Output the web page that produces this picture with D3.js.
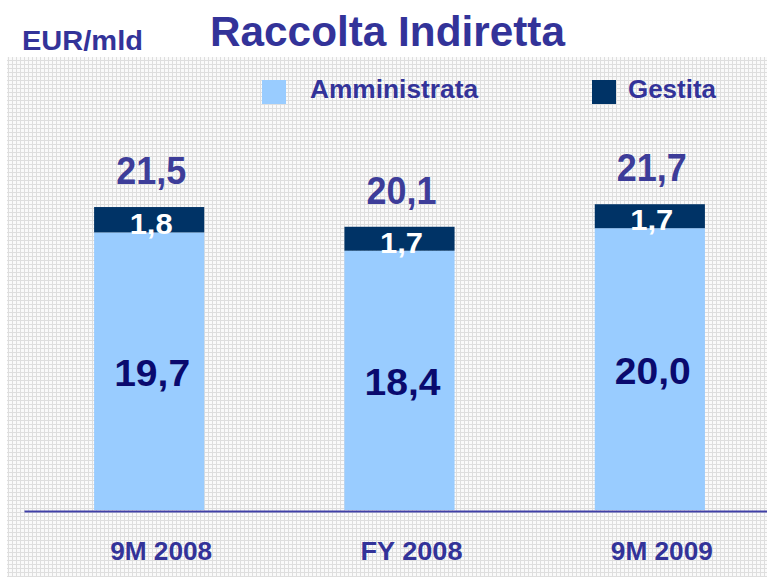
<!DOCTYPE html>
<html>
<head>
<meta charset="utf-8">
<script src="https://cdn.jsdelivr.net/npm/d3@7"></script>
<style>
  body { margin: 0; background: #fff; }
  svg { display: block; }
  text { font-family: "Liberation Sans", Arial, sans-serif; font-weight: bold; }
</style>
</head>
<body>
<svg id="chart"></svg>
<script>
const WIDTH = 767;
const HEIGHT = 577;

const categories = ["9M 2008", "FY 2008", "9M 2009"];
const amministrata = [19.7, 18.4, 20.0];
const gestita = [1.8, 1.7, 1.7];
const totals = [21.5, 20.1, 21.7];
const seriesNames = ["Amministrata", "Gestita"];

const COLORS = {
  amministrata: "#99ccff",
  gestita: "#003366",
  title: "#333399",
  inner: "#0a0a6e",
  total: "#3d3d99",
};

const fmt = (v) => d3.format(".1f")(v).replace(".", ",");

const svg = d3.select("#chart").attr("width", WIDTH).attr("height", HEIGHT);

// grid-textured background panel
const defs = svg.append("defs");
const pat = defs
  .append("pattern")
  .attr("id", "grid")
  .attr("width", 4)
  .attr("height", 4)
  .attr("patternUnits", "userSpaceOnUse");
pat.append("rect").attr("width", 4).attr("height", 4).attr("fill", "#fafafa");
pat.append("rect").attr("width", 4).attr("height", 1).attr("fill", "#dedede");
pat.append("rect").attr("width", 1).attr("height", 4).attr("fill", "#dedede");

svg
  .append("rect")
  .attr("x", 7)
  .attr("y", 57)
  .attr("width", WIDTH - 7)
  .attr("height", HEIGHT - 57)
  .attr("fill", "url(#grid)");

// titles
svg
  .append("text")
  .attr("x", 210)
  .attr("y", 46)
  .attr("font-size", 43)
  .attr("textLength", 355)
  .attr("lengthAdjust", "spacingAndGlyphs")
  .attr("fill", COLORS.title)
  .text("Raccolta Indiretta");

svg
  .append("text")
  .attr("x", 22)
  .attr("y", 50)
  .attr("font-size", 27)
  .attr("textLength", 121)
  .attr("lengthAdjust", "spacingAndGlyphs")
  .attr("fill", COLORS.title)
  .text("EUR/mld");

// scales
const x = d3
  .scaleBand()
  .domain(categories)
  .range([24, 775])
  .paddingInner(0.56)
  .paddingOuter(0.28);

const y = d3.scaleLinear().domain([0, 22]).range([510, 200]);

const rows = categories.map((c, i) => ({
  cat: c,
  adm: amministrata[i],
  ges: gestita[i],
  tot: totals[i],
}));

// bars
const bars = svg.append("g");

bars
  .selectAll(".adm")
  .data(rows)
  .join("rect")
  .attr("class", "adm")
  .attr("x", (d) => x(d.cat))
  .attr("width", x.bandwidth())
  .attr("y", (d) => y(d.adm))
  .attr("height", (d) => y(0) - y(d.adm))
  .attr("fill", COLORS.amministrata);

bars
  .selectAll(".ges")
  .data(rows)
  .join("rect")
  .attr("class", "ges")
  .attr("x", (d) => x(d.cat))
  .attr("width", x.bandwidth())
  .attr("y", (d) => y(d.adm + d.ges))
  .attr("height", (d) => y(d.adm) - y(d.adm + d.ges))
  .attr("fill", COLORS.gestita);

// axis
const axis = svg
  .append("g")
  .attr("transform", `translate(0, ${y(0) + 1})`)
  .call(d3.axisBottom(x).tickSize(0).tickPadding(31));

axis.select(".domain").attr("stroke", "#4040a6").attr("stroke-width", 2);
axis
  .selectAll(".tick text")
  .attr("dx", 12)
  .attr("font-size", 26)
  .attr("fill", COLORS.title)
  .attr("textLength", 102)
  .attr("lengthAdjust", "spacingAndGlyphs");

// value labels
const labels = svg.append("g").attr("text-anchor", "middle");

labels
  .selectAll(".adm-label")
  .data(rows)
  .join("text")
  .attr("class", "adm-label")
  .attr("x", (d) => x(d.cat) + x.bandwidth() / 2 + 3)
  .attr("y", (d) => (y(0) + y(d.adm)) / 2 + 15)
  .attr("font-size", 36)
  .attr("textLength", 76)
  .attr("lengthAdjust", "spacingAndGlyphs")
  .attr("fill", COLORS.inner)
  .text((d) => fmt(d.adm));

labels
  .selectAll(".ges-label")
  .data(rows)
  .join("text")
  .attr("class", "ges-label")
  .attr("x", (d) => x(d.cat) + x.bandwidth() / 2 + 2)
  .attr("y", (d) => y(d.adm) + 2)
  .attr("font-size", 29)
  .attr("textLength", 43)
  .attr("lengthAdjust", "spacingAndGlyphs")
  .attr("fill", "#ffffff")
  .text((d) => fmt(d.ges));

labels
  .selectAll(".tot-label")
  .data(rows)
  .join("text")
  .attr("class", "tot-label")
  .attr("x", (d) => x(d.cat) + x.bandwidth() / 2 + 2)
  .attr("y", (d) => y(d.adm + d.ges) - 23)
  .attr("font-size", 39)
  .attr("textLength", 70)
  .attr("lengthAdjust", "spacingAndGlyphs")
  .attr("fill", COLORS.total)
  .text((d) => fmt(d.tot));

// legend
const legendItems = [
  { name: seriesNames[0], color: COLORS.amministrata, x: 262, dx: 48, len: 168 },
  { name: seriesNames[1], color: COLORS.gestita, x: 592, dx: 36, len: 88 },
];

const legend = svg
  .selectAll(".legend")
  .data(legendItems)
  .join("g")
  .attr("class", "legend")
  .attr("transform", (d) => `translate(${d.x}, 80)`);

legend
  .append("rect")
  .attr("width", 24)
  .attr("height", 24)
  .attr("fill", (d) => d.color);

legend
  .append("text")
  .attr("x", (d) => d.dx)
  .attr("y", 18)
  .attr("font-size", 25)
  .attr("fill", COLORS.title)
  .attr("textLength", (d) => d.len)
  .attr("lengthAdjust", "spacingAndGlyphs")
  .text((d) => d.name);
</script>
</body>
</html>
